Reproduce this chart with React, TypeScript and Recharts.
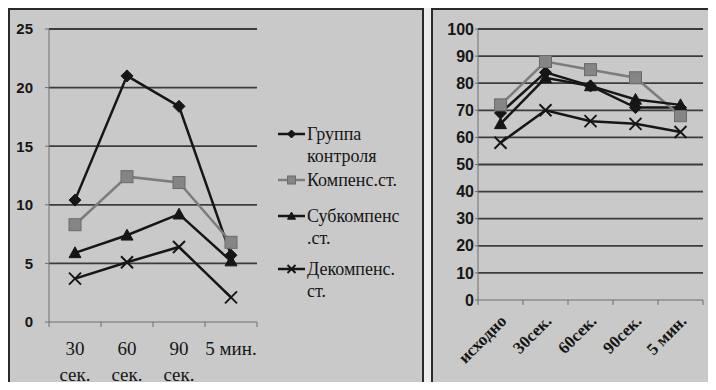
import React from 'react'
import { LineChart, Line, XAxis, YAxis, CartesianGrid, Legend } from 'recharts'

// left panel: 30 сек. ... 5 мин.
const leftCategories = ['30 сек.', '60 сек.', '90 сек.', '5 мин.']
const leftTickLines = [['30', 'сек.'], ['60', 'сек.'], ['90', 'сек.'], ['5 мин.']]
const leftControl = [10.4, 21.0, 18.4, 5.7]
const leftKompens = [8.3, 12.4, 11.9, 6.8]
const leftSubkompens = [5.9, 7.4, 9.2, 5.2]
const leftDekompens = [3.7, 5.1, 6.4, 2.1]
const leftTicks = [0, 5, 10, 15, 20, 25]

// right panel
const rightCategories = ['исходно', '30сек.', '60сек.', '90сек.', '5 мин.']
const rightControl = [69, 84, 79, 71, 71]
const rightKompens = [72, 88, 85, 82, 68]
const rightSubkompens = [65, 82, 79, 74, 72]
const rightDekompens = [58, 70, 66, 65, 62]
const rightTicks = [0, 10, 20, 30, 40, 50, 60, 70, 80, 90, 100]

const seriesNames = ['Группа контроля', 'Компенс.ст.', 'Субкомпенс.ст.', 'Декомпенс.ст.']
const legendLines = [['Группа', 'контроля'], ['Компенс.ст.'], ['Субкомпенс', '.ст.'], ['Декомпенс.', 'ст.']]

const leftData = leftCategories.map((cat, i) => ({
  cat,
  control: leftControl[i],
  kompens: leftKompens[i],
  subkompens: leftSubkompens[i],
  dekompens: leftDekompens[i],
}))

const rightData = rightCategories.map((cat, i) => ({
  cat,
  control: rightControl[i],
  kompens: rightKompens[i],
  subkompens: rightSubkompens[i],
  dekompens: rightDekompens[i],
}))

const BLACK = '#161616'
const GRAY = '#7c7c7c'
const AXIS = '#6e6e6e'
const GRID = '#3c3c3c'
const BG = '#c9c9c9'
const SERIF = '"Liberation Serif", "Times New Roman", serif'
const SANS = '"Liberation Sans", Arial, sans-serif'

// half of a category slot, px (plot widths 208 and 225)
const LEFT_HALF = 26
const RIGHT_HALF = 22.5

type Kind = 'diamond' | 'square' | 'triangle' | 'cross'

const series: { key: string; kind: Kind; color: string }[] = [
  { key: 'control', kind: 'diamond', color: BLACK },
  { key: 'kompens', kind: 'square', color: GRAY },
  { key: 'subkompens', kind: 'triangle', color: BLACK },
  { key: 'dekompens', kind: 'cross', color: BLACK },
]

function markerShape(kind: Kind, color: string, cx: number, cy: number, s: number, key?: any) {
  if (kind === 'diamond') {
    return <path key={key} d={`M${cx},${cy - s}L${cx + s},${cy}L${cx},${cy + s}L${cx - s},${cy}Z`} fill={color} stroke={color} strokeWidth={1} />
  }
  if (kind === 'square') {
    return <rect key={key} x={cx - s} y={cy - s} width={2 * s} height={2 * s} fill="#858585" stroke="#6a6a6a" strokeWidth={1} />
  }
  if (kind === 'triangle') {
    return <path key={key} d={`M${cx},${cy - s}L${cx + s},${cy + s * 0.8}L${cx - s},${cy + s * 0.8}Z`} fill={color} stroke={color} strokeWidth={1} />
  }
  return (
    <path key={key} d={`M${cx - s},${cy - s}L${cx + s},${cy + s}M${cx - s},${cy + s}L${cx + s},${cy - s}`} stroke={color} strokeWidth={2} fill="none" />
  )
}

const makeDot = (kind: Kind, color: string, s: number) => (p: any) => {
  if (p.cx == null || p.cy == null) return <g key={p.key} />
  return markerShape(kind, color, p.cx, p.cy, s, p.key)
}

const LeftTick = (props: any) => {
  const { x, y, payload, index } = props
  const lines = leftTickLines[index] || [payload.value]
  return (
    <g>
      <line x1={x - LEFT_HALF} y1={y} x2={x - LEFT_HALF} y2={y + 5} stroke={AXIS} />
      {index === leftCategories.length - 1 && <line x1={x + LEFT_HALF} y1={y} x2={x + LEFT_HALF} y2={y + 5} stroke={AXIS} />}
      <text x={x} y={y + 33} textAnchor="middle" fontFamily={SERIF} fontSize={19} fill={BLACK}>
        {lines.map((l, k) => (
          <tspan key={k} x={x} dy={k === 0 ? 0 : 26}>
            {l}
          </tspan>
        ))}
      </text>
    </g>
  )
}

const RightTick = (props: any) => {
  const { x, y, payload, index } = props
  const ax = x + 7
  const ay = y + 22
  return (
    <g>
      <line x1={x - RIGHT_HALF} y1={y} x2={x - RIGHT_HALF} y2={y + 5} stroke={AXIS} />
      {index === rightCategories.length - 1 && <line x1={x + RIGHT_HALF} y1={y} x2={x + RIGHT_HALF} y2={y + 5} stroke={AXIS} />}
      <text x={ax} y={ay} textAnchor="end" transform={`rotate(-45 ${ax} ${ay})`} fontFamily={SERIF} fontSize={17} fontWeight="bold" fill={BLACK}>
        {payload.value}
      </text>
    </g>
  )
}

const legendGaps = [2, 14, 9, 0]

const LegendBox = () => (
  <div style={{ fontFamily: SERIF, fontSize: 18, color: BLACK, lineHeight: '22px' }}>
    {series.map((s, i) => (
      <div key={s.key} style={{ display: 'flex', alignItems: 'flex-start', marginBottom: legendGaps[i] }} title={seriesNames[i]}>
        <svg width={31} height={22} style={{ flex: 'none' }}>
          <line x1={2} y1={11} x2={29} y2={11} stroke={s.color} strokeWidth={2.5} />
          {markerShape(s.kind, s.color, 15.5, 11, 4)}
        </svg>
        <div>
          {legendLines[i].map((l, k) => (
            <div key={k}>{l}</div>
          ))}
        </div>
      </div>
    ))}
  </div>
)

const panelStyle: React.CSSProperties = {
  position: 'absolute',
  top: 8,
  height: 400,
  boxSizing: 'border-box',
  border: '2px solid #2a2a2a',
  background: BG,
}

export default function App() {
  return (
    <div style={{ position: 'relative', width: 716, height: 390, margin: -8, background: '#ededed', overflow: 'hidden' }}>
      <div style={{ ...panelStyle, left: 8, width: 416 }}>
        <LineChart width={412} height={380} data={leftData} margin={{ top: 19, right: 165, left: 0, bottom: 8 }}>
          <CartesianGrid vertical={false} stroke={GRID} strokeWidth={1.8} horizontalValues={[5, 10, 15, 20, 25]} />
          <XAxis
            dataKey="cat"
            height={60}
            stroke={AXIS}
            padding={{ left: LEFT_HALF, right: LEFT_HALF }}
            tickLine={false}
            tickSize={0}
            tickMargin={0}
            interval={0}
            tick={<LeftTick />}
          />
          <YAxis
            width={39}
            domain={[0, 25]}
            ticks={leftTicks}
            stroke={AXIS}
            tickSize={4}
            tickMargin={12}
            tick={{ fontFamily: SANS, fontSize: 15, fontWeight: 'bold', fill: BLACK }}
          />
          <Legend
            layout="vertical"
            align="center"
            verticalAlign="middle"
            content={<LegendBox />}
            wrapperStyle={{ left: 266, top: 113, width: 146 }}
          />
          {series.map((s, i) => (
            <Line
              key={s.key}
              dataKey={s.key}
              name={seriesNames[i]}
              stroke={s.color}
              strokeWidth={2.5}
              dot={makeDot(s.kind, s.color, 6)}
              activeDot={false}
              isAnimationActive={false}
            />
          ))}
        </LineChart>
      </div>
      <div style={{ ...panelStyle, left: 431, width: 300, borderRight: 'none' }}>
        <LineChart width={283} height={380} data={rightData} margin={{ top: 19, right: 13, left: 0, bottom: 0 }}>
          <CartesianGrid vertical={false} stroke={GRID} strokeWidth={1.8} horizontalValues={rightTicks.slice(1)} />
          <XAxis
            dataKey="cat"
            height={90}
            stroke={AXIS}
            padding={{ left: RIGHT_HALF, right: RIGHT_HALF }}
            tickLine={false}
            tickSize={0}
            tickMargin={0}
            interval={0}
            tick={<RightTick />}
          />
          <YAxis
            width={45}
            domain={[0, 100]}
            ticks={rightTicks}
            stroke={AXIS}
            tickSize={3}
            tickMargin={1}
            tick={{ fontFamily: SANS, fontSize: 16, fontWeight: 'bold', fill: BLACK }}
          />
          {series.map((s, i) => (
            <Line
              key={s.key}
              dataKey={s.key}
              name={seriesNames[i]}
              stroke={s.color}
              strokeWidth={2.5}
              dot={makeDot(s.kind, s.color, 6)}
              activeDot={false}
              isAnimationActive={false}
            />
          ))}
        </LineChart>
      </div>
    </div>
  )
}
